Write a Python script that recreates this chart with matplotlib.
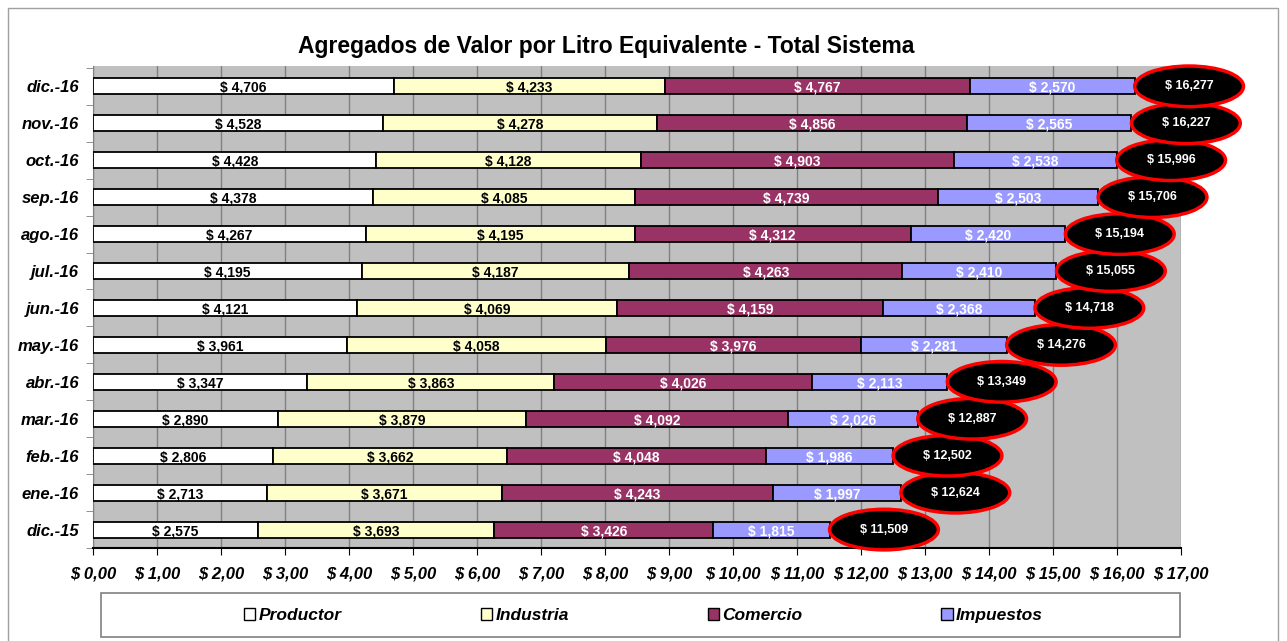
import matplotlib.pyplot as plt
import numpy as np
from matplotlib.patches import Ellipse, Rectangle, Patch

plt.rcParams['font.family'] = ['Liberation Sans', 'DejaVu Sans']

# data (pesos por litro, bottom row first)
meses = ['dic.-15', 'ene.-16', 'feb.-16', 'mar.-16', 'abr.-16', 'may.-16', 'jun.-16',
         'jul.-16', 'ago.-16', 'sep.-16', 'oct.-16', 'nov.-16', 'dic.-16']
productor = [2575, 2713, 2806, 2890, 3347, 3961, 4121, 4195, 4267, 4378, 4428, 4528, 4706]
industria = [3693, 3671, 3662, 3879, 3863, 4058, 4069, 4187, 4195, 4085, 4128, 4278, 4233]
comercio = [3426, 4243, 4048, 4092, 4026, 3976, 4159, 4263, 4312, 4739, 4903, 4856, 4767]
impuestos = [1815, 1997, 1986, 2026, 2113, 2281, 2368, 2410, 2420, 2503, 2538, 2565, 2570]
totales = [11509, 12624, 12502, 12887, 13349, 14276, 14718, 15055, 15194, 15706, 15996, 16227, 16277]
series = ['Productor', 'Industria', 'Comercio', 'Impuestos']
colores = ['#FFFFFF', '#FFFFCC', '#993366', '#9999FF']
color_txt = ['black', 'black', 'white', 'white']

fig = plt.figure(figsize=(12.87, 6.41), dpi=100)
ax = fig.add_axes([0.0723, 0.145, 0.8453, 0.752])
ax.set_facecolor('#C0C0C0')

y = np.arange(len(meses))
izq = np.zeros(len(meses))
for vals, col, tc, name in zip([productor, industria, comercio, impuestos], colores, color_txt, series):
    v = np.array(vals) / 1000.0
    ax.barh(y, v, left=izq, height=0.43, color=col, edgecolor='black', linewidth=1.3, label=name, zorder=3)
    for yi, (l, w, raw) in enumerate(zip(izq, v, vals)):
        ax.text(l + w / 2, yi - 0.04, f'$ {raw:,}', ha='center', va='center', fontsize=10,
                fontweight='bold', color=tc, zorder=4)
    izq = izq + v

# elipses con el total
for yi, t in enumerate(totales):
    cx = t / 1000.0 + 0.85
    e = Ellipse((cx, yi), width=1.7, height=1.1, facecolor='black', edgecolor='red',
                linewidth=2.5, zorder=5, clip_on=False)
    ax.add_patch(e)
    ax.text(cx, yi, f'$ {t:,}', ha='center', va='center', fontsize=9, fontweight='bold',
            color='white', zorder=6, clip_on=False)

ax.set_xlim(0, 17)
ax.set_ylim(-0.45, 12.55)
ax.set_xticks(np.arange(0, 18))
ax.set_xticklabels([f'$ {v:.2f}'.replace('.', ',') for v in range(18)], fontsize=12,
                   fontweight='bold', fontstyle='italic')
ax.set_yticks(y)
ax.set_yticklabels(meses, fontsize=12, fontweight='bold', fontstyle='italic')
ax.set_yticks(np.arange(-0.5, 12.6, 1), minor=True)
ax.tick_params(axis='y', which='major', length=0, pad=10)
ax.tick_params(axis='y', which='minor', length=5, color='#808080')
ax.tick_params(axis='x', length=5, pad=8)
ax.grid(axis='x', color='#808080', linewidth=1, zorder=0)
ax.set_axisbelow(True)
for s in ['top', 'right']:
    ax.spines[s].set_visible(False)
ax.spines['left'].set_color('#808080')
ax.spines['bottom'].set_color('black')
ax.spines['bottom'].set_linewidth(1.5)

fig.text(0.471, 0.928, 'Agregados de Valor por Litro Equivalente - Total Sistema',
         ha='center', va='center', fontsize=16.5, fontweight='bold')

# recuadro de la leyenda
fig.patches.append(Rectangle((0.0785, 0.006), 0.8385, 0.069, transform=fig.transFigure,
                             facecolor='white', edgecolor='#808080', linewidth=1.2))
handles = [Patch(facecolor=c, edgecolor='black', linewidth=1) for c in colores]
leg = fig.legend(handles, series, loc='center', bbox_to_anchor=(0.5, 0.04),
                 ncol=4, frameon=False, handlelength=0.65, handleheight=0.65,
                 handletextpad=0.2, columnspacing=8.0, borderaxespad=0,
                 prop={'size': 12.5, 'weight': 'bold', 'style': 'italic'})

fig.patches.append(Rectangle((0.006, -0.01), 0.987, 0.997, transform=fig.transFigure,
                             fill=False, edgecolor='#A0A0A0', linewidth=1))

fig.savefig('out.png', dpi=100)
